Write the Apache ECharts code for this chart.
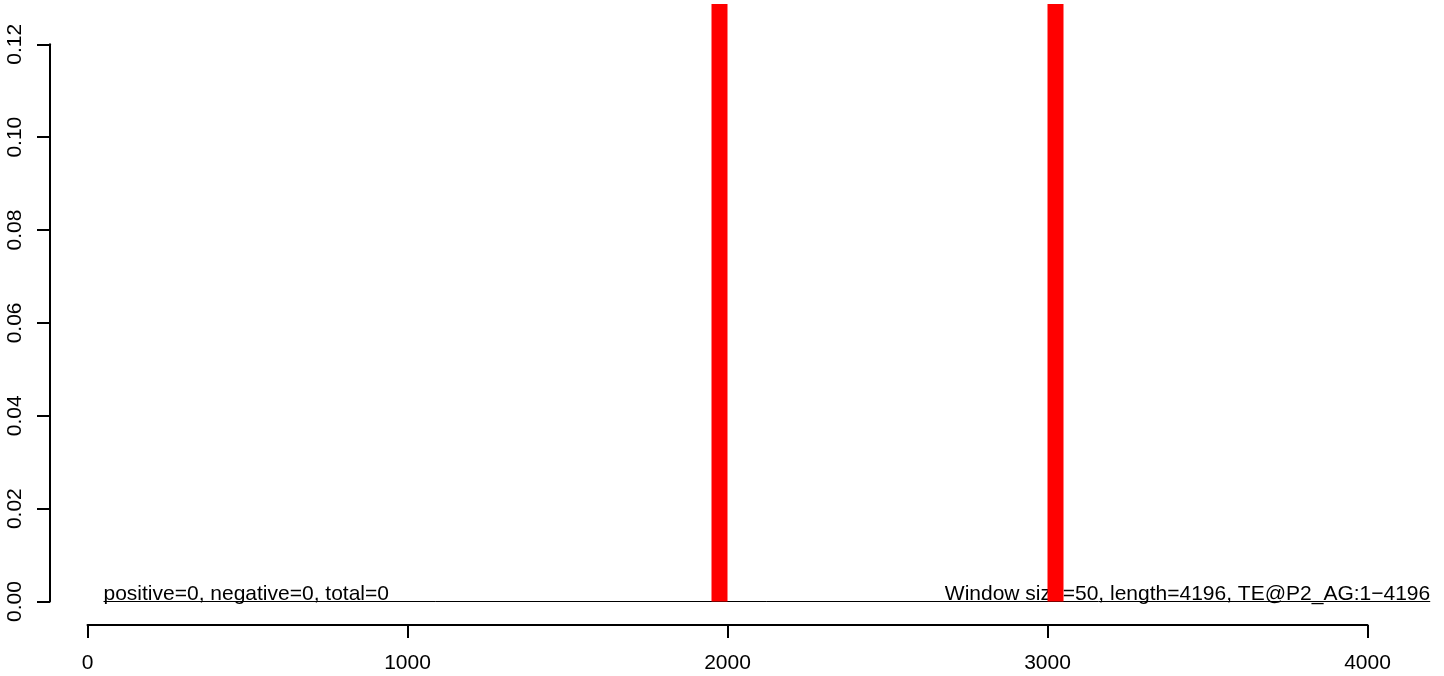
<!DOCTYPE html>
<html>
<head>
<meta charset="utf-8">
<script src="https://cdn.jsdelivr.net/npm/echarts@6/dist/echarts.min.js"></script>
<style>
html,body{margin:0;padding:0;background:#fff;}
#chart{width:1444px;height:676px;}
</style>
</head>
<body>
<div id="chart"></div>
<script>
// ---- data ----
var windowSize = 50;
var seqLength = 4196;
var barStarts = [1950, 3000];
var barEnds = [2000, 3050];
var barValues = [0.13, 0.13];
var baselineX = [50, 4196];
var baselineY = [0, 0];
var xTicks = [0, 1000, 2000, 3000, 4000];
var yTicks = [0, 0.02, 0.04, 0.06, 0.08, 0.10, 0.12];
var leftNote = "positive=0, negative=0, total=0";
var rightNote = "Window size=50, length=4196, TE@P2_AG:1\u22124196";
var noteX = [50, 4196];

var FONT = '"Liberation Sans", Arial, Helvetica, sans-serif';

var chart = echarts.init(document.getElementById('chart'), null, {renderer: 'canvas'});

var barData = barStarts.map(function (s, i) { return [s, barEnds[i], barValues[i]]; });

var option = {
  animation: false,
  backgroundColor: '#ffffff',
  grid: [
    {left: 50, top: 4, right: 0, bottom: 74.5, containLabel: false},
    {left: 87.5, width: 1280, top: 599, height: 26, containLabel: false},
    {left: 50, width: 10, top: 44.3, height: 557.2, containLabel: false}
  ],
  xAxis: [
    {gridIndex: 0, type: 'value', min: -117.1875, max: 4239.0625, show: false},
    {gridIndex: 1, type: 'value', min: xTicks[0], max: xTicks[xTicks.length - 1], interval: 1000,
      position: 'bottom',
      axisLine: {show: true, lineStyle: {color: '#000', width: 2}},
      axisTick: {show: true, inside: false, length: 13, lineStyle: {color: '#000', width: 2}},
      axisLabel: {show: true, margin: 28, color: '#000', fontSize: 21, fontFamily: FONT,
        formatter: function (v) { return String(v); }},
      splitLine: {show: false}
    },
    {gridIndex: 2, type: 'value', min: 0, max: 1, show: false}
  ],
  yAxis: [
    {gridIndex: 0, type: 'value', min: 0, max: 0.12867, show: false},
    {gridIndex: 1, type: 'value', min: 0, max: 1, show: false},
    {gridIndex: 2, type: 'value', min: yTicks[0], max: yTicks[yTicks.length - 1], interval: 0.02,
      position: 'left',
      axisLine: {show: true, lineStyle: {color: '#000', width: 2}},
      axisTick: {show: true, inside: false, length: 13, lineStyle: {color: '#000', width: 2}},
      axisLabel: {show: true, rotate: 90, margin: 24, color: '#000', fontSize: 21, fontFamily: FONT,
        formatter: function (v) { return v.toFixed(2); }},
      splitLine: {show: false}
    }
  ],
  series: [
    {
      type: 'line', xAxisIndex: 0, yAxisIndex: 0,
      data: baselineX.map(function (x, i) { return [x, baselineY[i]]; }),
      symbol: 'none', lineStyle: {color: '#000', width: 1}, z: 2, silent: true
    },
    {
      type: 'custom', xAxisIndex: 0, yAxisIndex: 0, z: 3, silent: true,
      data: [[noteX[0], 0, 0], [noteX[1], 0, 1]],
      renderItem: function (params, api) {
        var p = api.coord([api.value(0), api.value(1)]);
        var idx = api.value(2);
        return {
          type: 'text',
          x: p[0], y: p[1] + 3,
          style: {
            text: idx === 0 ? leftNote : rightNote,
            fill: '#000', font: '21px ' + FONT,
            align: idx === 0 ? 'left' : 'right',
            verticalAlign: 'bottom'
          }
        };
      }
    },
    {
      type: 'custom', xAxisIndex: 0, yAxisIndex: 0, z: 5, silent: true,
      data: barData,
      renderItem: function (params, api) {
        var p0 = api.coord([api.value(0), api.value(2)]);
        var p1 = api.coord([api.value(1), 0]);
        var cs = params.coordSys;
        var shape = echarts.graphic.clipRectByRect(
          {x: p0[0], y: p0[1], width: p1[0] - p0[0], height: p1[1] - p0[1]},
          {x: cs.x, y: cs.y, width: cs.width, height: cs.height});
        return shape && {type: 'rect', shape: shape, style: {fill: '#ff0000'}};
      }
    }
  ]
};
chart.setOption(option);
</script>
</body>
</html>
